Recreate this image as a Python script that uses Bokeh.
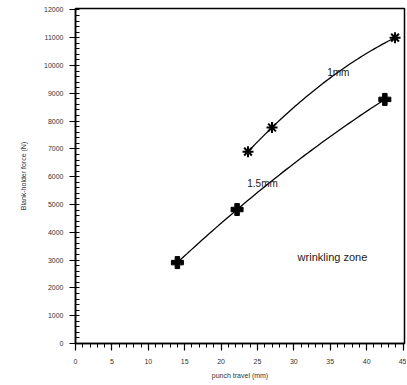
import numpy as np
from bokeh.plotting import figure
from bokeh.models import Range1d, FixedTicker, Label
from bokeh.embed import file_html
from bokeh.resources import INLINE

# data
x_1mm = [23.7, 27.0, 43.9]
y_1mm = [6900, 7770, 11000]
x_15mm = [14.0, 22.2, 42.5]
y_15mm = [2910, 4820, 8780]
x_ticks = [0, 5, 10, 15, 20, 25, 30, 35, 40, 45]
y_ticks = [0, 1000, 2000, 3000, 4000, 5000, 6000, 7000, 8000, 9000, 10000, 11000, 12000]

p = figure(width=406, height=384, output_backend="svg", toolbar_location=None,
           x_range=Range1d(0, 45.2), y_range=Range1d(0, 12050),
           min_border_left=75, min_border_right=2, min_border_top=8, min_border_bottom=41)
p.grid.visible = False
p.outline_line_color = "black"
p.outline_line_width = 1.5
p.background_fill_color = "white"

def smooth(xs, ys):
    c = np.polyfit(xs, ys, 2)
    xx = np.linspace(xs[0], xs[-1], 60)
    return xx, np.polyval(c, xx)

xx, yy = smooth(x_1mm, y_1mm)
p.line(xx, yy, line_color="black", line_width=1.3)
xx, yy = smooth(x_15mm, y_15mm)
p.line(xx, yy, line_color="black", line_width=1.3)

p.scatter(x_1mm, y_1mm, marker="asterisk", size=11, line_color="black", line_width=2)
p.scatter(x_15mm, y_15mm, marker="plus", size=12, fill_color="black", line_color="black", line_width=1)

p.xaxis.ticker = FixedTicker(ticks=x_ticks, minor_ticks=list(np.arange(0, 46, 1)))
p.yaxis.ticker = FixedTicker(ticks=y_ticks, minor_ticks=list(np.arange(0, 12001, 200)))
p.xaxis.axis_label = "punch travel (mm)"
p.yaxis.axis_label = "Blank-holder force (N)"

for ax in (p.xaxis[0], p.yaxis[0]):
    ax.axis_line_color = "black"
    ax.axis_line_width = 1.5
    ax.major_tick_line_color = "black"
    ax.minor_tick_line_color = "black"
    ax.major_tick_line_width = 1.2
    ax.minor_tick_line_width = 1
    ax.major_label_text_font = "Liberation Sans"
    ax.major_label_text_font_size = "7px"
    ax.major_label_text_color = "#333333"
    ax.axis_label_text_font = "Liberation Sans"
    ax.axis_label_text_font_size = "7px"
    ax.axis_label_text_font_style = "normal"
    ax.axis_label_text_color = "#333333"

p.xaxis.major_tick_out = 7
p.xaxis.major_tick_in = 0
p.xaxis.minor_tick_out = 4
p.xaxis.minor_tick_in = 0
p.xaxis.major_label_standoff = 8
p.xaxis.axis_label_standoff = 5

p.yaxis.major_tick_out = 6
p.yaxis.major_tick_in = 2
p.yaxis.minor_tick_out = 0
p.yaxis.minor_tick_in = 4
p.yaxis.major_label_standoff = 6
p.yaxis.axis_label_standoff = 14

p.add_layout(Label(x=36.1, y=9750, text="1mm", text_font="Liberation Sans",
                   text_font_size="10px", text_align="center", text_baseline="middle",
                   text_color="#222222"))
p.add_layout(Label(x=25.7, y=5750, text="1.5mm", text_font="Liberation Sans",
                   text_font_size="10px", text_align="center", text_baseline="middle",
                   text_color="#222222"))
p.add_layout(Label(x=35.3, y=3100, text="wrinkling zone", text_font="Liberation Sans",
                   text_font_size="11px", text_align="center", text_baseline="middle",
                   text_color="#222222"))

open("out.html", "w").write(file_html(p, INLINE))
